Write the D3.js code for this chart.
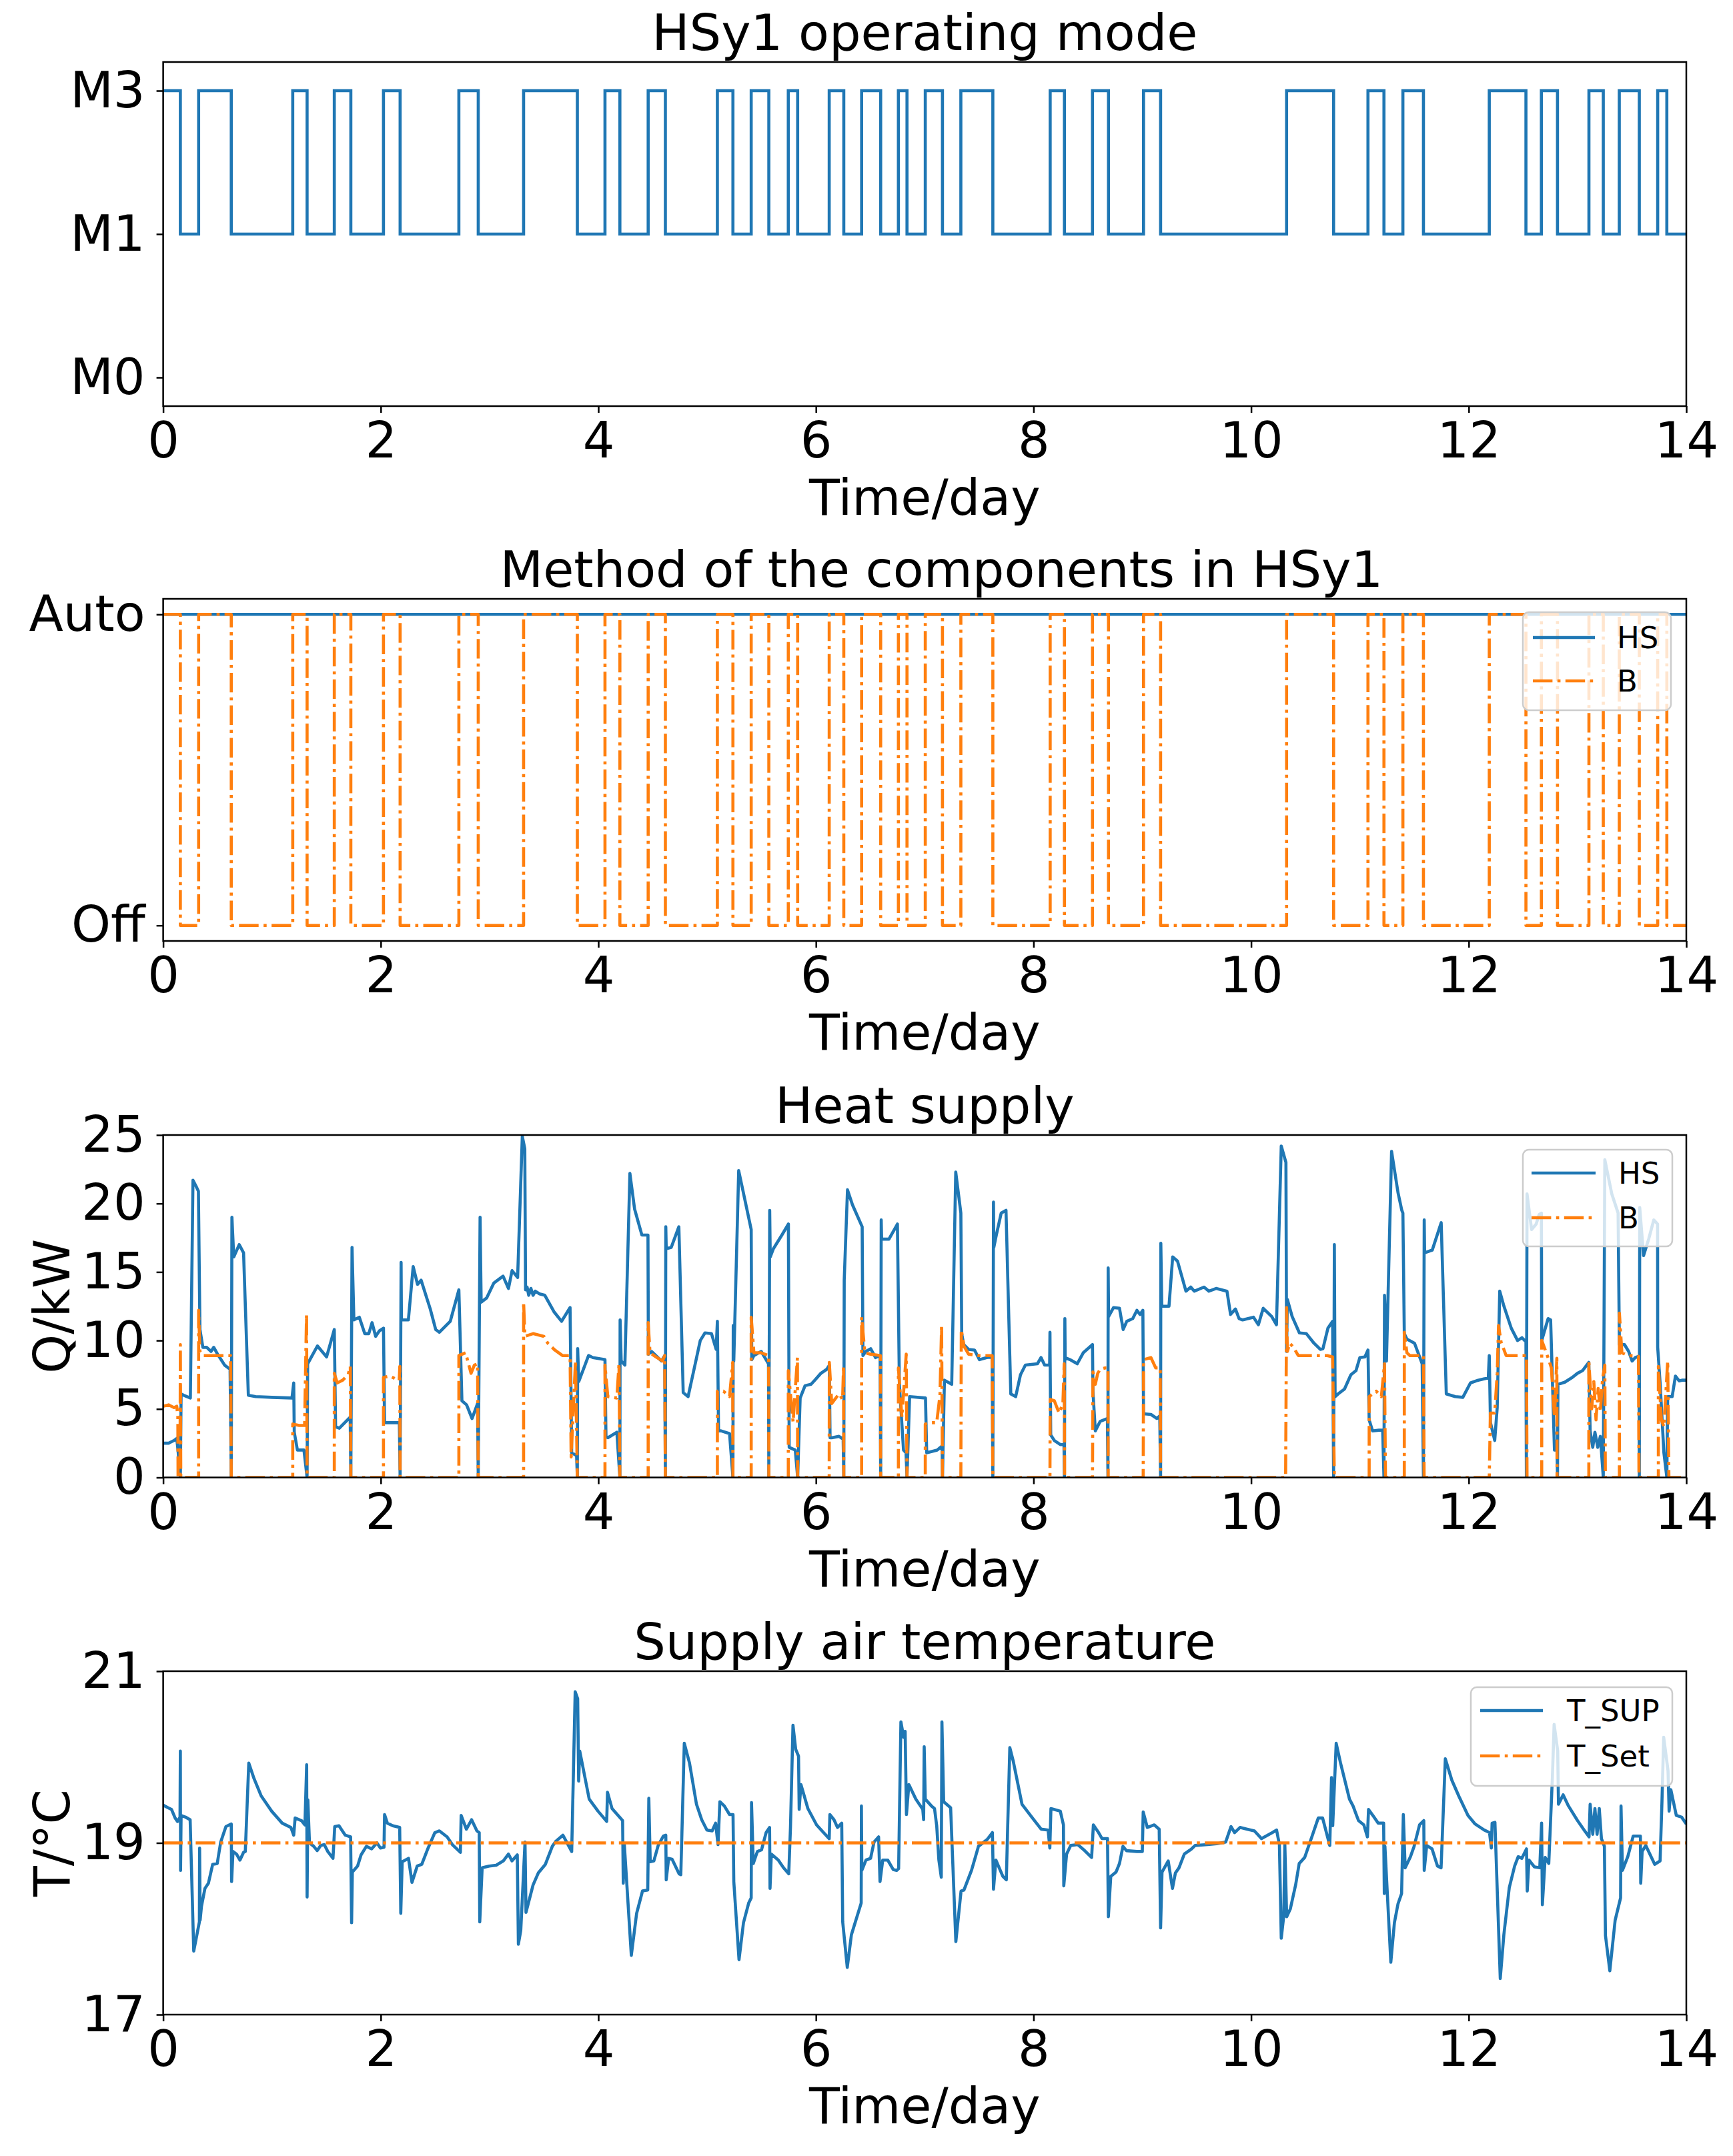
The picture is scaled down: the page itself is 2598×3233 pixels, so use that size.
<!DOCTYPE html>
<html>
<head>
<meta charset="utf-8">
<script src="https://cdn.jsdelivr.net/npm/d3@7"></script>
<style>
  html, body { margin: 0; padding: 0; background: #ffffff; }
  svg { display: block; }
</style>
</head>
<body>
<div id="chart"></div>
<script>
// ---------------- DATA ----------------
const xTicks = [0, 2, 4, 6, 8, 10, 12, 14];
const modeLevels = ["M0", "M1", "M3"];
const methodLevels = ["Off", "Auto"];
const heatTicks = [0, 5, 10, 15, 20, 25];
const tempTicks = [17, 19, 21];

// switching instants (day) of the operating mode
const switchTimes = [0, 0.158, 0.326, 0.626, 1.191, 1.323, 1.573, 1.725, 2.025, 2.178, 2.718, 2.896,
  3.313, 3.807, 4.061, 4.198, 4.458, 4.616, 5.094, 5.237, 5.405, 5.567, 5.746, 5.832, 6.122, 6.256,
  6.42, 6.595, 6.758, 6.837, 7.005, 7.163, 7.332, 7.626, 8.153, 8.284, 8.542, 8.689, 9.011, 9.168,
  10.326, 10.758, 11.074, 11.221, 11.395, 11.584, 12.189, 12.526, 12.668, 12.816, 13.105, 13.237,
  13.384, 13.568, 13.737, 13.821, 14];
const modeValues = ["M3","M1","M3","M1","M3","M1","M3","M1","M3","M1","M3","M1",
  "M3","M1","M3","M1","M3","M1","M3","M1","M3","M1","M3","M1","M3","M1",
  "M3","M1","M3","M1","M3","M1","M3","M1","M3","M1","M3","M1","M3","M1",
  "M3","M1","M3","M1","M3","M1","M3","M1","M3","M1","M3","M1",
  "M3","M1","M3","M1","M1"];
const methodB = ["Auto","Off","Auto","Off","Auto","Off","Auto","Off","Auto","Off","Auto","Off",
  "Auto","Off","Auto","Off","Auto","Off","Auto","Off","Auto","Off","Auto","Off","Auto","Off",
  "Auto","Off","Auto","Off","Auto","Off","Auto","Off","Auto","Off","Auto","Off","Auto","Off",
  "Auto","Off","Auto","Off","Auto","Off","Auto","Off","Auto","Off","Auto","Off",
  "Auto","Off","Auto","Off","Off"];
const methodHSTimes = [0, 14];
const methodHS = ["Auto", "Auto"];

// heat supply of the heat source (HS), kW  [day, kW]
const heatHS = [
 [0,2.5],[0.05,2.5],[0.10,2.7],[0.125,2.85],[0.135,2.1],[0.158,0],[0.165,6.1],[0.19,6.0],[0.25,5.8],
 [0.274,21.7],[0.30,21.3],[0.324,20.9],[0.338,10.8],[0.365,9.5],[0.40,9.5],[0.44,9.2],[0.465,9.5],
 [0.50,9.0],[0.565,8.2],[0.615,7.9],[0.626,0],[0.632,19.0],[0.649,16.1],[0.699,17.0],[0.739,16.4],
 [0.783,6.0],[0.85,5.9],[1.0,5.85],[1.184,5.8],[1.2,6.9],[1.205,3.3],[1.234,2.0],[1.294,2.0],[1.323,0],
 [1.328,8.3],[1.418,9.6],[1.502,8.8],[1.552,10.2],[1.573,10.8],[1.585,3.7],[1.619,3.6],[1.719,4.4],
 [1.725,0],[1.736,16.8],[1.753,11.5],[1.803,11.7],[1.853,10.5],[1.89,10.5],[1.92,11.3],[1.953,10.3],
 [1.987,10.7],[2.025,10.9],[2.035,4.0],[2.171,4.0],[2.178,0],[2.187,15.7],[2.19,11.5],[2.254,11.5],
 [2.298,15.4],[2.338,14.1],[2.371,14.4],[2.455,12.3],[2.505,10.8],[2.538,10.6],[2.639,11.4],
 [2.718,13.7],[2.746,5.6],[2.789,5.3],[2.839,4.3],[2.89,5.4],[2.896,0],[2.913,19.0],[2.923,12.8],
 [2.973,13.1],[3.04,14.2],[3.124,14.7],[3.174,13.8],[3.207,15.1],[3.258,14.6],[3.301,24.9],[3.324,24.0],
 [3.331,13.7],[3.345,13.9],[3.36,13.3],[3.38,13.8],[3.40,13.3],[3.42,13.6],[3.46,13.4],[3.508,13.3],
 [3.592,12.1],[3.662,11.4],[3.74,12.4],[3.755,1.8],[3.80,1.6],[3.807,0],[3.81,9.4],[3.82,7.0],
 [3.91,8.9],[3.95,8.75],[4.061,8.6],[4.07,3.0],[4.087,2.9],[4.17,3.3],[4.198,0],[4.20,11.5],[4.21,8.5],
 [4.244,8.2],[4.29,22.2],[4.333,19.6],[4.40,17.7],[4.456,17.7],[4.46,9.0],[4.49,9.2],[4.58,8.5],
 [4.61,8.9],[4.616,0],[4.62,18.3],[4.624,16.7],[4.67,16.8],[4.74,18.3],[4.78,6.2],[4.825,5.9],
 [4.937,10.0],[4.98,10.55],[5.04,10.5],[5.083,9.35],[5.094,11.4],[5.105,3.4],[5.128,3.4],[5.206,3.2],
 [5.237,0],[5.24,11.1],[5.245,8.5],[5.29,22.4],[5.405,18.1],[5.41,8.6],[5.43,8.9],[5.497,9.2],
 [5.564,8.3],[5.567,0],[5.575,19.5],[5.58,16.1],[5.609,16.7],[5.687,17.7],[5.747,18.5],[5.754,2.2],
 [5.81,2.0],[5.832,0],[5.855,5.8],[5.9,6.7],[5.955,6.8],[5.989,7.1],[6.045,7.6],[6.1,7.9],[6.123,8.2],
 [6.13,2.9],[6.145,2.9],[6.212,3.0],[6.25,2.8],[6.256,0],[6.26,14.4],[6.29,21.0],[6.336,19.9],
 [6.425,18.3],[6.432,8.9],[6.459,9.2],[6.503,9.4],[6.548,8.75],[6.59,8.9],[6.595,0],[6.60,18.8],
 [6.604,17.4],[6.671,17.4],[6.749,18.5],[6.767,6.8],[6.805,2.0],[6.828,1.8],[6.837,0],[6.861,5.9],
 [7.007,5.8],[7.018,1.8],[7.114,2.0],[7.16,2.3],[7.163,0],[7.181,7.1],[7.248,6.8],[7.285,22.3],
 [7.332,19.3],[7.34,10.5],[7.358,9.7],[7.403,9.35],[7.458,9.3],[7.503,8.6],[7.569,8.75],[7.62,8.8],
 [7.626,0],[7.632,20.1],[7.635,16.8],[7.658,17.7],[7.703,19.3],[7.747,19.5],[7.791,6.1],[7.836,5.9],
 [7.88,7.5],[7.925,8.2],[8.036,8.3],[8.069,8.75],[8.102,8.2],[8.148,8.2],[8.151,10.6],[8.158,3.1],
 [8.191,2.7],[8.246,2.4],[8.28,2.4],[8.284,0],[8.288,11.6],[8.291,8.75],[8.335,8.6],[8.402,8.3],
 [8.457,9.1],[8.542,9.7],[8.546,6.3],[8.568,3.4],[8.613,4.1],[8.679,4.3],[8.684,0],[8.686,15.3],
 [8.69,11.75],[8.735,12.4],[8.79,12.35],[8.824,10.8],[8.857,11.4],[8.912,11.6],[8.95,12.2],
 [8.979,11.9],[9.005,12.2],[9.011,4.65],[9.079,4.6],[9.134,4.3],[9.16,4.5],[9.168,0],[9.17,17.1],
 [9.179,12.5],[9.245,12.5],[9.279,16.1],[9.323,15.8],[9.401,13.6],[9.445,13.9],[9.478,13.6],
 [9.567,13.9],[9.612,13.6],[9.678,13.8],[9.778,13.6],[9.811,11.9],[9.856,12.3],[9.889,11.6],
 [9.922,11.5],[10.022,11.7],[10.067,11.15],[10.111,12.35],[10.189,11.75],[10.233,11.15],
 [10.277,24.2],[10.32,23.0],[10.326,9.2],[10.333,13.0],[10.377,11.75],[10.444,10.55],[10.508,10.5],
 [10.578,9.8],[10.636,9.35],[10.66,9.4],[10.706,10.9],[10.749,11.4],[10.758,0],[10.765,17.0],
 [10.772,5.9],[10.8,6.1],[10.858,6.45],[10.917,7.5],[10.964,7.8],[10.999,8.75],[11.046,8.8],
 [11.074,9.3],[11.085,4.2],[11.116,3.4],[11.174,3.45],[11.209,3.45],[11.221,0],[11.226,13.3],
 [11.244,8.5],[11.291,23.8],[11.35,20.8],[11.385,19.5],[11.395,19.3],[11.408,10.5],[11.432,10.1],
 [11.502,9.8],[11.572,8.3],[11.584,0],[11.591,18.8],[11.595,16.4],[11.665,16.6],[11.747,18.6],
 [11.794,6.1],[11.876,5.9],[11.946,5.85],[12.016,6.9],[12.087,7.1],[12.145,7.2],[12.18,7.3],
 [12.189,8.9],[12.2,4.0],[12.239,2.7],[12.262,5.1],[12.285,13.6],[12.32,12.6],[12.391,10.9],
 [12.449,10.0],[12.49,10.2],[12.526,9.9],[12.53,0],[12.536,20.7],[12.578,18.1],[12.62,18.5],
 [12.648,19.2],[12.668,19.3],[12.671,10.0],[12.73,11.6],[12.753,11.5],[12.788,2.0],[12.812,2.0],
 [12.816,0],[12.82,6.8],[12.882,6.95],[12.952,7.3],[12.999,7.6],[13.046,7.8],[13.104,8.4],
 [13.116,3.4],[13.14,2.2],[13.16,3.3],[13.186,2.2],[13.21,3.0],[13.237,0],[13.251,23.2],
 [13.315,20.7],[13.373,19.3],[13.385,9.7],[13.432,9.7],[13.47,9.2],[13.502,8.5],[13.53,8.75],
 [13.565,8.85],[13.568,0],[13.572,19.7],[13.607,16.2],[13.654,17.4],[13.701,18.8],[13.736,18.5],
 [13.737,9.5],[13.76,6.8],[13.794,1.8],[13.821,0],[13.829,5.9],[13.87,5.9],[13.9,7.4],[13.934,7.05],
 [13.96,7.1],[14.0,7.1]
];

// heat supply of the boiler (B), kW  [day, kW]
const heatB = [
 [0,5.2],[0.05,5.3],[0.10,5.1],[0.125,5.2],[0.135,4.4],[0.137,0],[0.155,0],[0.158,9.7],[0.162,0],
 [0.326,0],[0.326,12.2],[0.338,9.2],[0.365,8.9],[0.5,8.9],[0.62,8.9],[0.626,0],[1.191,0],[1.191,3.9],
 [1.25,3.8],[1.30,3.8],[1.318,12.0],[1.323,0],[1.573,0],[1.573,7.6],[1.60,6.9],[1.65,7.1],[1.70,7.5],
 [1.72,8.1],[1.725,0],[2.025,0],[2.025,7.3],[2.085,7.4],[2.135,7.2],[2.17,7.1],[2.175,8.1],[2.178,0],
 [2.718,0],[2.718,8.9],[2.78,9.1],[2.83,7.6],[2.86,8.2],[2.89,8.3],[2.896,0],[3.313,0],[3.313,12.8],
 [3.325,10.3],[3.40,10.5],[3.50,10.3],[3.535,9.8],[3.60,9.3],[3.67,8.9],[3.74,8.9],[3.75,1.5],
 [3.79,8.5],[3.807,0],[4.061,0],[4.061,8.2],[4.087,5.9],[4.17,5.8],[4.19,8.3],[4.198,0],[4.458,0],
 [4.458,11.3],[4.475,9.1],[4.53,8.8],[4.59,8.5],[4.61,8.9],[4.616,0],[5.094,0],[5.094,6.3],
 [5.15,6.3],[5.206,5.9],[5.235,8.4],[5.237,0],[5.405,0],[5.405,11.7],[5.43,9.1],[5.497,9.1],
 [5.565,8.9],[5.567,0],[5.746,0],[5.746,7.8],[5.79,4.05],[5.83,8.75],[5.832,0],[6.122,0],
 [6.123,8.4],[6.145,5.4],[6.212,6.1],[6.245,5.7],[6.254,8.2],[6.256,0],[6.42,0],[6.42,11.7],
 [6.45,9.1],[6.503,9.0],[6.593,8.9],[6.595,0],[6.758,0],[6.758,8.0],[6.79,4.4],[6.83,9.0],[6.837,0],
 [7.005,0],[7.005,3.9],[7.05,4.0],[7.11,4.0],[7.14,6.0],[7.155,11.1],[7.163,0],[7.332,0],
 [7.336,10.8],[7.36,9.6],[7.403,9.0],[7.5,8.9],[7.62,8.9],[7.626,0],[8.151,0],[8.153,5.7],
 [8.191,5.6],[8.235,4.7],[8.27,5.4],[8.282,8.3],[8.286,0],[8.542,0],[8.546,7.7],[8.568,6.8],
 [8.59,7.6],[8.613,7.9],[8.66,8.0],[8.684,8.0],[8.686,0],[9.008,0],[9.011,8.6],[9.079,8.75],
 [9.123,8.0],[9.165,8.0],[9.168,0],[10.317,0],[10.326,12.4],[10.333,9.2],[10.355,9.8],[10.389,9.5],
 [10.433,8.9],[10.5,8.9],[10.7,8.9],[10.749,8.8],[10.765,0],[11.085,0],[11.085,5.9],[11.116,6.1],
 [11.15,6.3],[11.197,5.9],[11.226,8.3],[11.235,0],[11.408,0],[11.408,10.6],[11.432,9.1],[11.46,8.9],
 [11.55,8.9],[11.584,8.9],[11.59,0],[12.189,0],[12.199,4.7],[12.239,4.7],[12.262,7.6],[12.274,11.1],
 [12.297,9.9],[12.344,8.9],[12.5,8.9],[12.531,8.9],[12.536,0],[12.671,0],[12.671,10.0],[12.718,9.0],
 [12.76,8.0],[12.788,4.4],[12.81,8.7],[12.812,0],[13.104,0],[13.104,8.5],[13.13,5.0],[13.15,7.0],
 [13.17,4.2],[13.19,6.5],[13.21,4.8],[13.23,7.2],[13.251,8.2],[13.256,0],[13.385,0],[13.385,12.0],
 [13.408,9.1],[13.467,8.9],[13.56,8.85],[13.565,0],[13.743,0],[13.743,8.1],[13.771,4.2],
 [13.794,3.7],[13.829,8.5],[13.84,0],[14,0]
];

// supply air temperature T_SUP, °C  [day, °C]
const tSup = [
 [0,19.44],[0.045,19.41],[0.077,19.39],[0.11,19.29],[0.132,19.25],[0.155,19.3],[0.158,20.07],
 [0.16,18.68],[0.165,19.32],[0.206,19.3],[0.248,19.27],[0.281,17.74],[0.333,18.08],[0.335,18.94],
 [0.34,18.1],[0.352,18.26],[0.384,18.47],[0.416,18.53],[0.455,18.75],[0.497,18.76],[0.529,19.01],
 [0.577,19.19],[0.626,19.22],[0.629,18.55],[0.642,18.9],[0.674,18.87],[0.706,18.8],[0.739,18.89],
 [0.755,18.9],[0.787,19.93],[0.835,19.75],[0.9,19.55],[0.997,19.37],[1.094,19.23],[1.174,19.18],
 [1.2,19.09],[1.213,19.29],[1.271,19.26],[1.303,19.21],[1.319,19.91],[1.323,18.37],[1.33,19.5],
 [1.345,19.0],[1.384,18.96],[1.416,18.91],[1.448,18.97],[1.481,18.98],[1.513,18.9],[1.561,18.82],
 [1.577,19.19],[1.616,19.2],[1.642,19.15],[1.674,19.09],[1.723,19.07],[1.732,18.07],[1.739,18.66],
 [1.787,18.73],[1.819,18.86],[1.868,18.96],[1.916,18.93],[1.965,19.0],[1.997,18.94],[2.03,18.95],
 [2.035,19.33],[2.061,19.23],[2.11,19.2],[2.174,19.18],[2.184,18.18],[2.197,18.78],[2.255,18.82],
 [2.287,18.54],[2.335,18.73],[2.377,18.75],[2.432,18.93],[2.497,19.12],[2.539,19.14],[2.61,19.07],
 [2.658,18.98],[2.732,18.89],[2.739,19.32],[2.787,19.16],[2.835,19.27],[2.884,19.14],[2.905,19.12],
 [2.91,18.08],[2.932,18.71],[2.997,18.73],[3.061,18.74],[3.126,18.79],[3.174,18.87],[3.206,18.79],
 [3.255,18.86],[3.265,17.82],[3.287,17.98],[3.326,19.01],[3.335,18.19],[3.4,18.51],[3.448,18.65],
 [3.513,18.75],[3.577,18.96],[3.61,19.02],[3.674,19.09],[3.755,18.9],[3.787,20.76],[3.81,20.68],
 [3.819,19.72],[3.829,20.07],[3.916,19.51],[3.997,19.37],[4.077,19.25],[4.084,19.59],[4.126,19.4],
 [4.223,19.26],[4.229,18.53],[4.239,18.98],[4.303,17.69],[4.352,18.18],[4.406,18.44],[4.454,18.45],
 [4.464,19.52],[4.477,18.78],[4.51,18.79],[4.55,18.97],[4.598,19.08],[4.62,19.09],[4.624,18.57],
 [4.646,18.82],[4.678,18.81],[4.742,18.64],[4.758,18.63],[4.79,20.16],[4.838,19.93],[4.902,19.45],
 [4.95,19.27],[4.998,19.15],[5.046,19.14],[5.078,19.23],[5.1,18.98],[5.117,19.48],[5.158,19.43],
 [5.206,19.33],[5.238,19.33],[5.245,18.55],[5.293,17.64],[5.334,18.07],[5.382,18.3],[5.405,18.36],
 [5.408,19.47],[5.424,18.76],[5.462,18.9],[5.5,18.92],[5.542,19.12],[5.574,19.18],[5.578,18.47],
 [5.59,18.87],[5.654,18.8],[5.702,18.71],[5.75,18.64],[5.766,19.18],[5.789,20.37],[5.814,20.09],
 [5.84,20.01],[5.846,19.39],[5.862,19.68],[5.926,19.4],[6.006,19.21],[6.07,19.12],[6.122,19.05],
 [6.128,19.33],[6.166,19.27],[6.198,19.18],[6.237,19.23],[6.246,18.08],[6.288,17.55],[6.326,17.93],
 [6.416,18.3],[6.418,19.43],[6.422,18.68],[6.46,18.8],[6.502,18.82],[6.534,19.01],[6.576,19.07],
 [6.589,18.55],[6.614,18.8],[6.66,18.8],[6.71,18.69],[6.742,18.68],[6.76,18.7],[6.781,20.41],
 [6.806,20.23],[6.82,20.3],[6.832,19.33],[6.854,19.68],[6.918,19.51],[6.982,19.39],[6.99,19.27],
 [6.995,20.12],[7.005,19.51],[7.062,19.43],[7.09,19.4],[7.11,19.2],[7.13,18.8],[7.152,18.6],
 [7.158,20.41],[7.174,19.48],[7.238,19.41],[7.286,17.85],[7.334,18.44],[7.36,18.45],[7.43,18.68],
 [7.494,18.96],[7.574,19.04],[7.622,19.12],[7.632,18.46],[7.654,18.8],[7.718,18.61],[7.75,18.57],
 [7.76,19.07],[7.782,20.11],[7.814,19.95],[7.894,19.45],[7.99,19.29],[8.07,19.16],[8.134,19.15],
 [8.15,18.94],[8.16,19.4],[8.246,19.37],[8.275,19.21],[8.278,18.5],[8.304,18.87],[8.342,18.97],
 [8.406,18.98],[8.47,18.91],[8.534,18.83],[8.55,19.21],[8.598,19.12],[8.63,19.05],[8.68,19.05],
 [8.688,18.14],[8.71,18.61],[8.758,18.66],[8.79,18.76],[8.822,18.96],[8.854,18.91],[8.95,18.9],
 [9.0,18.9],[9.008,19.36],[9.046,19.18],[9.11,19.21],[9.155,19.16],[9.168,18.01],[9.181,18.66],
 [9.238,18.79],[9.277,18.47],[9.304,18.65],[9.337,18.71],[9.386,18.87],[9.452,18.93],[9.485,18.97],
 [9.601,18.98],[9.683,18.99],[9.766,19.01],[9.815,19.19],[9.848,19.12],[9.898,19.18],[9.964,19.16],
 [10.03,19.14],[10.096,19.05],[10.195,19.12],[10.234,19.15],[10.26,18.98],[10.277,17.89],[10.3,18.15],
 [10.31,18.98],[10.327,18.14],[10.36,18.23],[10.409,18.51],[10.442,18.76],[10.492,18.83],
 [10.558,19.07],[10.617,19.29],[10.657,19.29],[10.723,18.97],[10.739,19.76],[10.75,19.2],
 [10.782,20.16],[10.822,19.93],[10.904,19.51],[10.937,19.43],[10.987,19.26],[11.036,19.21],
 [11.069,19.07],[11.079,19.39],[11.119,19.32],[11.168,19.23],[11.218,19.23],[11.224,18.41],
 [11.23,18.96],[11.284,17.61],[11.317,18.07],[11.35,18.29],[11.383,18.41],[11.399,19.33],
 [11.416,18.71],[11.465,18.84],[11.498,18.96],[11.548,19.21],[11.587,19.26],[11.591,18.68],
 [11.614,18.97],[11.663,18.93],[11.713,18.73],[11.746,18.71],[11.785,19.98],[11.845,19.73],
 [11.911,19.54],[11.993,19.32],[12.059,19.22],[12.142,19.15],[12.191,19.12],[12.208,18.94],
 [12.215,19.23],[12.241,19.24],[12.29,17.42],[12.323,17.93],[12.373,18.48],[12.422,18.73],
 [12.455,18.84],[12.488,18.82],[12.531,18.93],[12.538,18.44],[12.554,18.8],[12.604,18.72],
 [12.653,18.71],[12.67,19.23],[12.677,18.28],[12.703,18.83],[12.736,18.76],[12.769,19.76],
 [12.785,20.38],[12.818,20.07],[12.825,19.45],[12.868,19.56],[12.917,19.43],[13.0,19.26],
 [13.066,19.14],[13.106,19.07],[13.116,19.45],[13.14,19.1],[13.16,19.4],[13.18,19.1],[13.2,19.4],
 [13.22,19.05],[13.247,18.96],[13.257,17.92],[13.297,17.51],[13.346,18.1],[13.396,18.36],
 [13.4,19.43],[13.413,18.68],[13.462,18.84],[13.512,19.08],[13.578,19.08],[13.581,18.53],
 [13.594,18.9],[13.627,18.97],[13.71,18.75],[13.759,18.79],[13.776,19.47],[13.792,20.23],
 [13.832,19.84],[13.842,19.37],[13.858,19.62],[13.908,19.32],[13.957,19.3],[14.0,19.22]
];
const tSet = [[0, 19], [14, 19]];

const titles = ["HSy1 operating mode", "Method of the components in HSy1", "Heat supply", "Supply air temperature"];

// ---------------- LAYOUT ----------------
const W = 2598, H = 3233;
const L = 244.6, R = 2528;
const FONT = "'DejaVu Sans', 'Liberation Sans', sans-serif";
const FS = 75, LFS = 45;
const BLUE = "#1f77b4", ORANGE = "#ff7f0e";
const LW = 4.6;
const DASHDOT = "29.4,7.4,4.6,7.4";
const panels = [
  { top: 93, bottom: 609, titleDx: 0 },
  { top: 898, bottom: 1411, titleDx: 25 },
  { top: 1702, bottom: 2215.5, titleDx: 0 },
  { top: 2506, bottom: 3021, titleDx: 0 }
];

const svg = d3.select("#chart").append("svg")
  .attr("width", W).attr("height", H)
  .attr("viewBox", `0 0 ${W} ${H}`);
svg.append("rect").attr("width", W).attr("height", H).attr("fill", "#fff");

const x = d3.scaleLinear().domain([0, 14]).range([L, R]);

function drawFrame(i, y, yTickValues, yTickFormat, ylabel) {
  const p = panels[i];
  const g = svg.append("g");
  svg.append("clipPath").attr("id", "clip" + i)
    .append("rect").attr("x", L).attr("y", p.top).attr("width", R - L).attr("height", p.bottom - p.top);

  const xa = g.append("g").attr("transform", `translate(0,${p.bottom})`)
    .call(d3.axisBottom(x).tickValues(xTicks).tickSize(10).tickSizeOuter(0).tickPadding(14).tickFormat(d3.format("d")));
  const ya = g.append("g").attr("transform", `translate(${L},0)`)
    .call(d3.axisLeft(y).tickValues(yTickValues).tickSize(10).tickSizeOuter(0).tickPadding(17).tickFormat(yTickFormat));
  [xa, ya].forEach(a => {
    a.select(".domain").remove();
    a.selectAll(".tick line").attr("stroke", "#000").attr("stroke-width", 2.5);
    a.selectAll(".tick text").attr("font-family", FONT).attr("font-size", FS).attr("fill", "#000");
  });
  g.append("text").attr("x", (L + R) / 2 + p.titleDx).attr("y", p.top - 18)
    .attr("text-anchor", "middle").attr("font-family", FONT).attr("font-size", FS).attr("fill", "#000")
    .text(titles[i]);
  g.append("text").attr("x", (L + R) / 2).attr("y", p.bottom + 163)
    .attr("text-anchor", "middle").attr("font-family", FONT).attr("font-size", FS).attr("fill", "#000")
    .text("Time/day");
  if (ylabel) {
    g.append("text")
      .attr("transform", `translate(104,${(p.top + p.bottom) / 2}) rotate(-90)`)
      .attr("text-anchor", "middle").attr("font-family", FONT).attr("font-size", FS).attr("fill", "#000")
      .text(ylabel);
  }
  return g;
}

function drawSpines(i) {
  const p = panels[i];
  svg.append("rect").attr("x", L).attr("y", p.top).attr("width", R - L).attr("height", p.bottom - p.top)
    .attr("fill", "none").attr("stroke", "#000").attr("stroke-width", 2.5);
}

function drawLegend(box, items, hx0, hx1, tx) {
  const g = svg.append("g");
  g.append("rect").attr("x", box.x0).attr("y", box.y0)
    .attr("width", box.x1 - box.x0).attr("height", box.y1 - box.y0)
    .attr("rx", 9).attr("ry", 9)
    .attr("fill", "#fff").attr("fill-opacity", 0.8)
    .attr("stroke", "#cccccc").attr("stroke-width", 2.5);
  items.forEach(it => {
    g.append("line").attr("x1", hx0).attr("x2", hx1).attr("y1", it.y).attr("y2", it.y)
      .attr("stroke", it.color).attr("stroke-width", LW)
      .attr("stroke-dasharray", it.dash || null);
    g.append("text").attr("x", tx).attr("y", it.y + LFS * 0.36)
      .attr("font-family", FONT).attr("font-size", LFS).attr("fill", "#000").text(it.label);
  });
}

// ---------------- PANEL 1: operating mode ----------------
{
  const p = panels[0];
  const y = d3.scaleLinear().domain([-0.2, 2.2]).range([p.bottom, p.top]);
  drawFrame(0, y, [0, 1, 2], d => modeLevels[d], null);
  const data = switchTimes.map((t, k) => [t, modeLevels.indexOf(modeValues[k])]);
  const line = d3.line().x(d => x(d[0])).y(d => y(d[1])).curve(d3.curveStepAfter);
  svg.append("path").datum(data).attr("d", line)
    .attr("clip-path", "url(#clip0)")
    .attr("fill", "none").attr("stroke", BLUE).attr("stroke-width", LW).attr("stroke-linejoin", "miter");
  drawSpines(0);
}

// ---------------- PANEL 2: method ----------------
{
  const p = panels[1];
  const y = d3.scaleLinear().domain([-0.05, 1.05]).range([p.bottom, p.top]);
  drawFrame(1, y, [0, 1], d => methodLevels[d], null);
  const line = d3.line().x(d => x(d[0])).y(d => y(d[1])).curve(d3.curveStepAfter);
  const hs = methodHSTimes.map((t, k) => [t, methodLevels.indexOf(methodHS[k])]);
  const b = switchTimes.map((t, k) => [t, methodLevels.indexOf(methodB[k])]);
  svg.append("path").datum(hs).attr("d", line).attr("clip-path", "url(#clip1)")
    .attr("fill", "none").attr("stroke", BLUE).attr("stroke-width", LW);
  svg.append("path").datum(b).attr("d", line).attr("clip-path", "url(#clip1)")
    .attr("fill", "none").attr("stroke", ORANGE).attr("stroke-width", LW)
    .attr("stroke-dasharray", DASHDOT).attr("stroke-linejoin", "round");
  drawSpines(1);
  drawLegend({ x0: 2283, y0: 918, x1: 2505, y1: 1065 },
    [{ label: "HS", color: BLUE, y: 956 }, { label: "B", color: ORANGE, dash: DASHDOT, y: 1021 }],
    2298, 2391, 2424);
}

// ---------------- PANEL 3: heat supply ----------------
{
  const p = panels[2];
  const y = d3.scaleLinear().domain([0, 25]).range([p.bottom, p.top]);
  drawFrame(2, y, heatTicks, d3.format("d"), "Q/kW");
  const line = d3.line().x(d => x(d[0])).y(d => y(d[1]));
  svg.append("path").datum(heatHS).attr("d", line).attr("clip-path", "url(#clip2)")
    .attr("fill", "none").attr("stroke", BLUE).attr("stroke-width", LW).attr("stroke-linejoin", "round");
  svg.append("path").datum(heatB).attr("d", line).attr("clip-path", "url(#clip2)")
    .attr("fill", "none").attr("stroke", ORANGE).attr("stroke-width", LW)
    .attr("stroke-dasharray", DASHDOT).attr("stroke-linejoin", "round");
  drawSpines(2);
  drawLegend({ x0: 2283, y0: 1724, x1: 2507, y1: 1869 },
    [{ label: "HS", color: BLUE, y: 1759 }, { label: "B", color: ORANGE, dash: DASHDOT, y: 1826 }],
    2296, 2392, 2426);
}

// ---------------- PANEL 4: supply air temperature ----------------
{
  const p = panels[3];
  const y = d3.scaleLinear().domain([17, 21]).range([p.bottom, p.top]);
  drawFrame(3, y, tempTicks, d3.format("d"), "T/°C");
  const line = d3.line().x(d => x(d[0])).y(d => y(d[1]));
  svg.append("path").datum(tSup).attr("d", line).attr("clip-path", "url(#clip3)")
    .attr("fill", "none").attr("stroke", BLUE).attr("stroke-width", LW).attr("stroke-linejoin", "round");
  svg.append("path").datum(tSet).attr("d", line).attr("clip-path", "url(#clip3)")
    .attr("fill", "none").attr("stroke", ORANGE).attr("stroke-width", LW)
    .attr("stroke-dasharray", DASHDOT);
  drawSpines(3);
  drawLegend({ x0: 2205, y0: 2530, x1: 2507, y1: 2678 },
    [{ label: "T_SUP", color: BLUE, y: 2565 }, { label: "T_Set", color: ORANGE, dash: DASHDOT, y: 2633 }],
    2219, 2313, 2349);
}
</script>
</body>
</html>
